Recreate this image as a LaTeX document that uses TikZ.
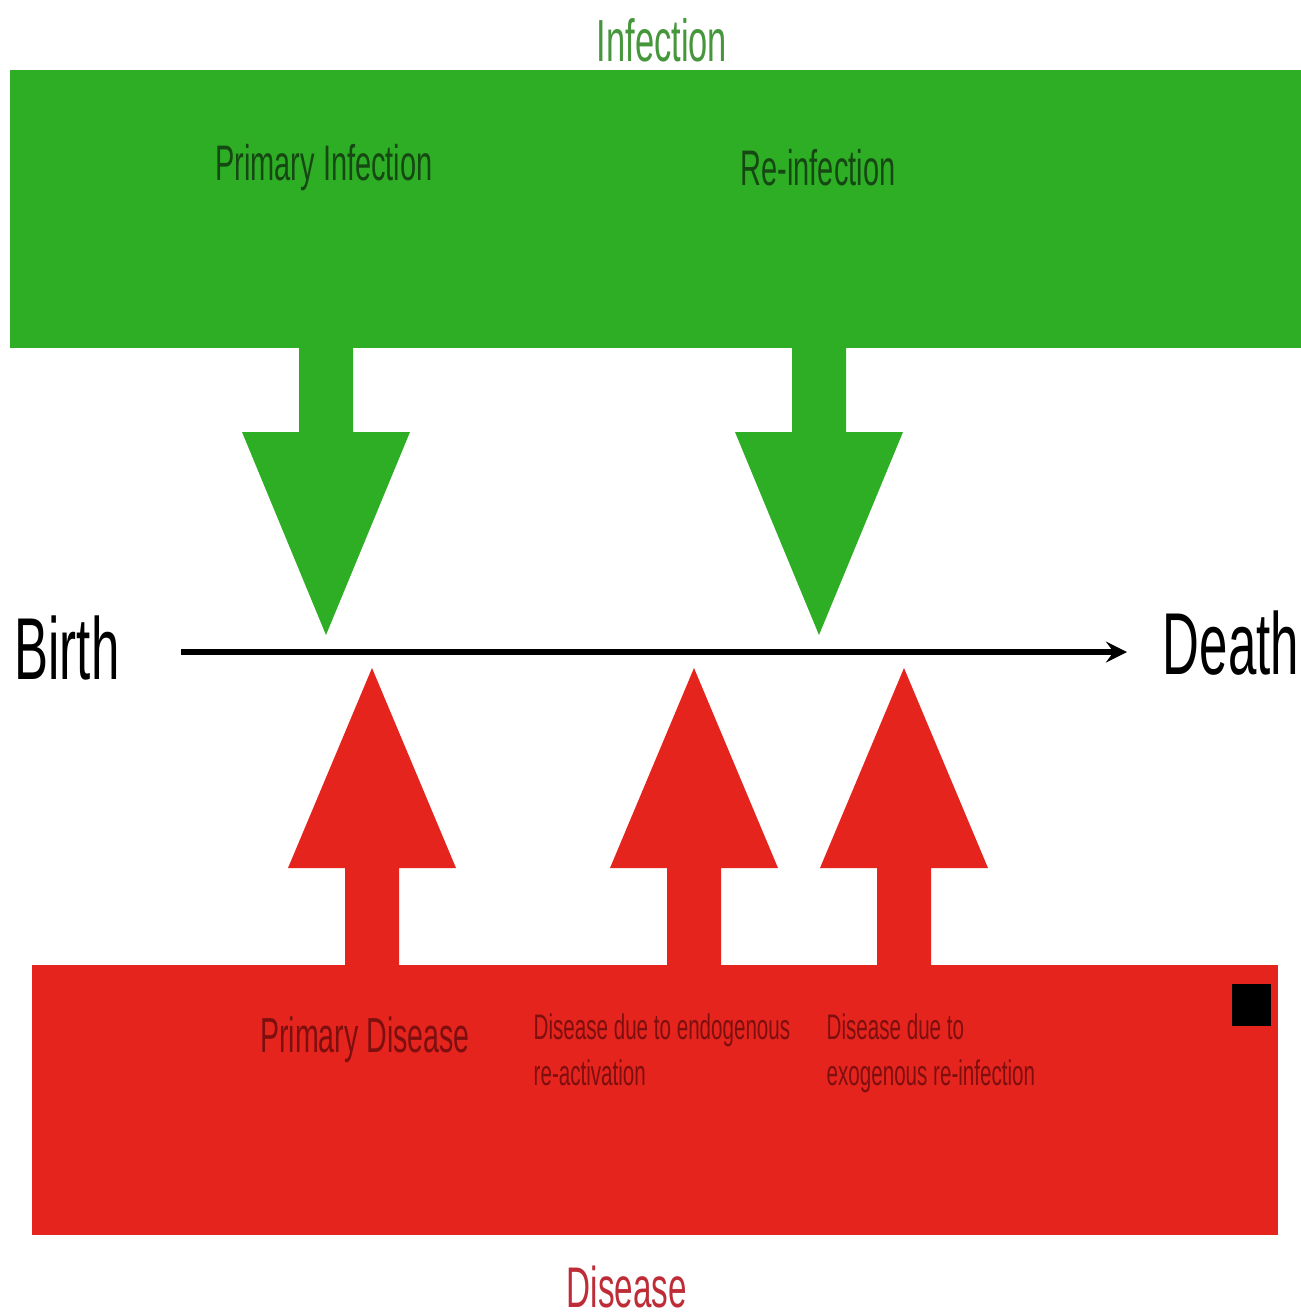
\documentclass[tikz,border=0pt]{standalone}
\usepackage{fontspec}
\setmainfont{Liberation Sans}[FakeStretch=0.58]
\definecolor{infgreen}{RGB}{45,174,36}
\definecolor{disred}{RGB}{230,36,30}
\definecolor{infgreentext}{RGB}{70,150,60}
\definecolor{disredtext}{RGB}{190,45,55}
\definecolor{barlabgreen}{RGB}{22,72,20}
\definecolor{barlabred}{RGB}{125,15,15}
\tikzset{
 greenlab/.style={text=barlabgreen,font=\fontsize{14.2}{17}\selectfont},
 redlab/.style={text=barlabred,font=\fontsize{14}{17}\selectfont},
 smallred/.style={text=barlabred,font=\fontsize{10.1}{13}\selectfont,align=left,anchor=north west,inner sep=0pt},
 endlab/.style={font=\fontsize{25}{30}\selectfont}
}
\begin{document}
\begin{tikzpicture}[x=0.01cm,y=-0.01cm,>=stealth]
 \useasboundingbox (0,0) rectangle (1301,1315);
 % bars
 \fill[infgreen] (10,70) rectangle (1301,348);
 \fill[disred] (32,965) rectangle (1278,1235);
 \fill[black] (1232,984) rectangle (1271,1026);
 % block arrows from infection
 \foreach \cx in {326,819}
 \fill[infgreen] (\cx-27,345) -- (\cx+27,345) -- (\cx+27,432) -- (\cx+84,432)
 -- (\cx,635) -- (\cx-84,432) -- (\cx-27,432) -- cycle;
 % block arrows from disease
 \foreach \cx in {372,694,904}
 \fill[disred] (\cx-27,968) -- (\cx+27,968) -- (\cx+27,868) -- (\cx+84,868)
 -- (\cx,668) -- (\cx-84,868) -- (\cx-27,868) -- cycle;
 % labels
 \node[text=infgreentext,font=\fontsize{16.9}{20}\selectfont] (infection) at (662,40) {Infection};
 \node[text=disredtext,font=\fontsize{16.3}{20}\selectfont] (disease) at (627,1287) {Disease};
 \node[greenlab] (primaryinf) at (324,168) {Primary Infection};
 \node[greenlab] (reinf) at (818,168) {Re-infection};
 \node[redlab] (primarydis) at (365,1040) {Primary Disease};
 \node[smallred] (endogenous) at (533,1013) {Disease due to endogenous\\re-activation};
 \node[smallred] (exogenous) at (826,1013) {Disease due to\\exogenous re-infection};
 \node[endlab] (birth) at (67,648) {Birth};
 \node[endlab] (death) at (1231,643) {Death};
 % time line
 \coordinate (tstart) at (181,652);
 \coordinate (tend) at (1127,652);
 \draw[->,line width=1.6pt] (tstart) -- (tend);
\end{tikzpicture}
\end{document}
